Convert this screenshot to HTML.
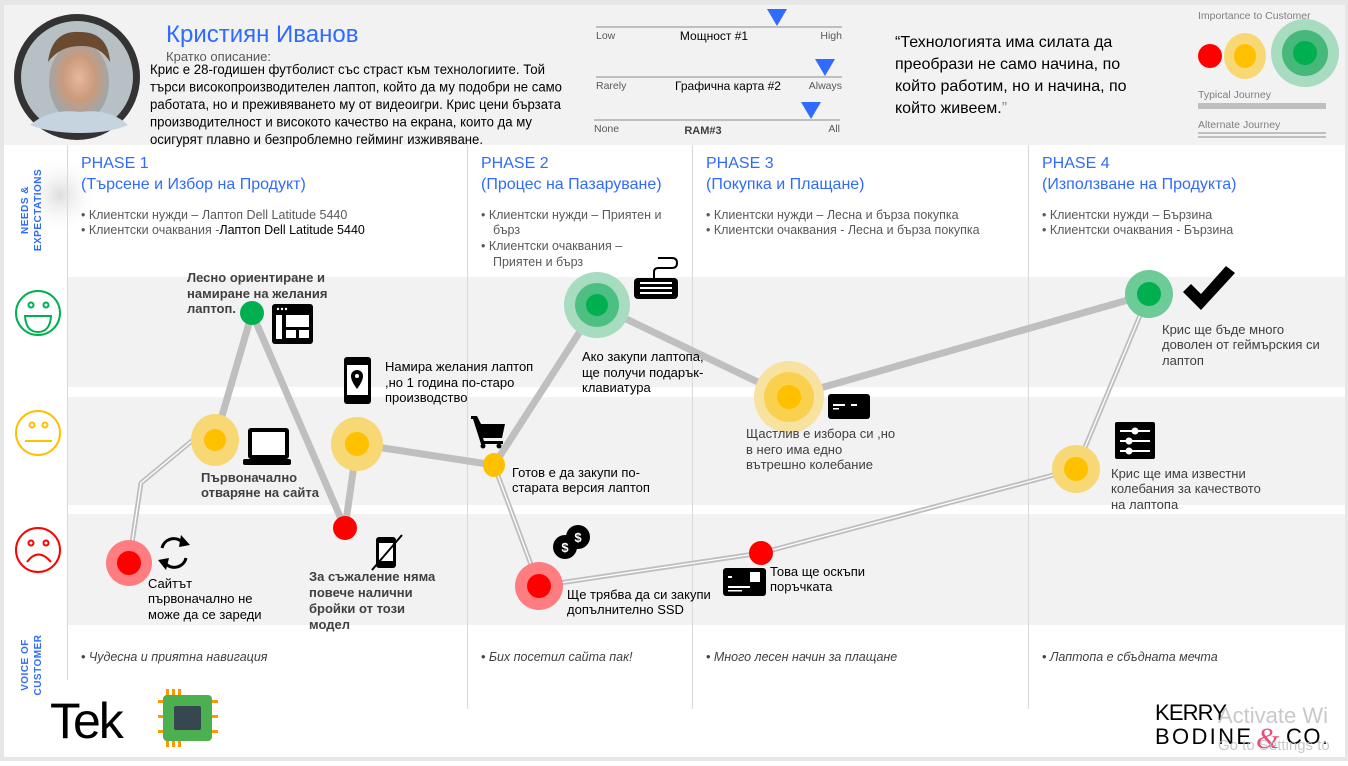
<!DOCTYPE html>
<html><head><meta charset="utf-8">
<style>
html,body{margin:0;padding:0;background:#fff;}
body{width:1348px;height:761px;overflow:hidden;position:relative;}
svg text{font-family:"Liberation Sans Narrow","Liberation Sans",sans-serif;}
</style></head>
<body>
<svg width="1348" height="761" viewBox="0 0 1348 761" xmlns="http://www.w3.org/2000/svg">
<defs>
<radialGradient id="photo" cx="50%" cy="45%" r="55%">
<stop offset="0" stop-color="#e9b89a"/><stop offset="0.5" stop-color="#c99a7c"/><stop offset="1" stop-color="#9aa8b0"/>
</radialGradient>
<radialGradient id="sh" cx="50%" cy="50%" r="50%"><stop offset="0" stop-color="#ddd"/><stop offset="1" stop-color="#fff" stop-opacity="0"/></radialGradient>
</defs>
<rect x="0" y="0" width="1348" height="761" fill="#fff"/>
<rect x="0" y="0" width="1348" height="5" fill="#e6e6e6"/>
<rect x="4" y="5" width="1341" height="140" fill="#f2f2f2"/>
<rect x="0" y="0" width="4" height="761" fill="#e6e6e6"/>
<rect x="1345" y="0" width="3" height="761" fill="#e6e6e6"/>
<rect x="0" y="757" width="1348" height="4" fill="#e6e6e6"/>

<!-- photo -->
<circle cx="77" cy="77" r="63" fill="#333"/>
<circle cx="77" cy="77" r="56" fill="#b7c0c4"/>
<ellipse cx="79" cy="82" rx="30" ry="40" fill="url(#photo)"/>
<path d="M48 62 Q52 30 80 32 Q108 32 110 62 Q100 45 80 46 Q60 46 48 62Z" fill="#6b4a32"/>
<path d="M30 125 Q50 108 80 112 Q110 108 128 125 Q110 133 80 133 Q50 133 30 125Z" fill="#c6d4e0"/>

<text x="166" y="42" font-size="24" fill="#2f6bff" style="font-family:'Liberation Sans',sans-serif">Кристиян Иванов</text>
<text x="166" y="61" font-size="13" fill="#595959" textLength="105" lengthAdjust="spacingAndGlyphs">Кратко описание:</text>
<g font-size="13.5" fill="#000">
<text x="150" y="74" textLength="395" lengthAdjust="spacingAndGlyphs">Крис е 28-годишен футболист със страст към технологиите. Той</text>
<text x="150" y="91.5" textLength="412" lengthAdjust="spacingAndGlyphs">търси високопроизводителен лаптоп, който да му подобри не само</text>
<text x="150" y="109" textLength="411" lengthAdjust="spacingAndGlyphs">работата, но и преживяването му от видеоигри. Крис цени бързата</text>
<text x="150" y="126.5" textLength="382" lengthAdjust="spacingAndGlyphs">производителност и високото качество на екрана, които да му</text>
<text x="150" y="144" textLength="333" lengthAdjust="spacingAndGlyphs">осигурят плавно и безпроблемно гейминг изживяване.</text>
</g>

<!-- sliders -->
<g fill="#595959" font-size="10.5">
<rect x="596" y="26" width="246" height="2" fill="#bfbfbf"/>
<polygon points="767,9 787,9 777,26" fill="#2f6bff"/>
<text x="596" y="39">Low</text><text x="842" y="39" text-anchor="end">High</text>
<text x="714" y="40" text-anchor="middle" fill="#000" font-size="12">Мощност #1</text>
<rect x="596" y="76" width="246" height="2" fill="#bfbfbf"/>
<polygon points="815,59 835,59 825,76" fill="#2f6bff"/>
<text x="596" y="89">Rarely</text><text x="842" y="89" text-anchor="end">Always</text>
<text x="728" y="90" text-anchor="middle" fill="#000" font-size="12">Графична карта #2</text>
<rect x="594" y="119" width="246" height="2" fill="#bfbfbf"/>
<polygon points="801,102 821,102 811,119" fill="#2f6bff"/>
<text x="594" y="132">None</text><text x="840" y="132" text-anchor="end">All</text>
<text x="703" y="134" text-anchor="middle" fill="#404040" font-size="11" font-weight="bold">RAM#3</text>
</g>

<!-- quote -->
<g font-size="16" fill="#000">
<text x="895" y="47">“Технологията има силата да</text>
<text x="895" y="69">преобрази не само начина, по</text>
<text x="895" y="91">който работим, но и начина, по</text>
<text x="895" y="113">който живеем.<tspan fill="#888">”</tspan></text>
</g>

<!-- legend -->
<g font-size="10.5" fill="#7f7f7f">
<text x="1198" y="19">Importance to Customer</text>
<text x="1198" y="98">Typical Journey</text>
<text x="1198" y="128">Alternate Journey</text>
</g>
<ellipse cx="1210" cy="56" rx="12" ry="12" fill="#ff0000"/>
<ellipse cx="1245" cy="56" rx="21" ry="23" fill="#f8d775"/>
<ellipse cx="1245" cy="56" rx="11" ry="12" fill="#ffc000"/>
<circle cx="1305" cy="53" r="34" fill="#a8dcc0"/>
<circle cx="1305" cy="53" r="23" fill="#45b87a"/>
<circle cx="1305" cy="53" r="12" fill="#00b050"/>
<rect x="1198" y="103" width="128" height="6" fill="#bfbfbf"/>
<rect x="1198" y="132" width="128" height="2" fill="#bfbfbf"/>
<rect x="1198" y="136" width="128" height="2" fill="#bfbfbf"/>

<!-- bands -->
<rect x="67" y="277" width="1278" height="110" fill="#f2f2f2"/>
<rect x="67" y="397" width="1278" height="108" fill="#f2f2f2"/>
<rect x="67" y="514" width="1278" height="111" fill="#f2f2f2"/>
<ellipse cx="60" cy="195" rx="40" ry="40" fill="url(#sh)"/>

<g stroke="#d9d9d9" stroke-width="1">
<line x1="67.5" y1="145" x2="67.5" y2="680"/>
<line x1="467.5" y1="145" x2="467.5" y2="709"/>
<line x1="692.5" y1="145" x2="692.5" y2="709"/>
<line x1="1028.5" y1="145" x2="1028.5" y2="709"/>
</g>

<g font-size="10" font-weight="bold" fill="#2f6bff" style="font-family:'Liberation Sans',sans-serif" letter-spacing="0.5">
<text transform="translate(28,210) rotate(-90)" text-anchor="middle">NEEDS &amp;</text>
<text transform="translate(41,210) rotate(-90)" text-anchor="middle">EXPECTATIONS</text>
<text transform="translate(28,665) rotate(-90)" text-anchor="middle">VOICE OF</text>
<text transform="translate(41,665) rotate(-90)" text-anchor="middle">CUSTOMER</text>
</g>

<g font-size="16" fill="#2f6bff">
<text x="81" y="168">PHASE 1</text><text x="81" y="189">(Търсене и Избор на Продукт)</text>
<text x="481" y="168">PHASE 2</text><text x="481" y="189">(Процес на Пазаруване)</text>
<text x="706" y="168">PHASE 3</text><text x="706" y="189">(Покупка и Плащане)</text>
<text x="1042" y="168">PHASE 4</text><text x="1042" y="189">(Използване на Продукта)</text>
</g>
<g font-size="12.5" fill="#595959">
<text x="81" y="219">•  Клиентски нужди – Лаптоп Dell Latitude 5440</text>
<text x="81" y="234">•  Клиентски очаквания -<tspan fill="#000">Лаптоп Dell Latitude 5440</tspan></text>
<text x="481" y="219">•  Клиентски нужди – Приятен и</text>
<text x="493" y="234">бърз</text>
<text x="481" y="250">•  Клиентски очаквания –</text>
<text x="493" y="266">Приятен и бърз</text>
<text x="706" y="219">•  Клиентски нужди – Лесна и бърза покупка</text>
<text x="706" y="234">•  Клиентски очаквания - Лесна и бърза покупка</text>
<text x="1042" y="219">•  Клиентски нужди – Бързина</text>
<text x="1042" y="234">•  Клиентски очаквания - Бързина</text>
</g>

<g fill="none" stroke-width="2">
<g stroke="#00b050"><circle cx="38" cy="313" r="22"/><circle cx="31" cy="305" r="2.5"/><circle cx="46" cy="305" r="2.5"/><path d="M25 316 L51 316 Q50 332 38 332 Q26 332 25 316Z"/></g>
<g stroke="#ffc000"><circle cx="38" cy="433" r="22"/><circle cx="32" cy="425" r="2.5"/><circle cx="45" cy="425" r="2.5"/><line x1="25" y1="441" x2="52" y2="441"/></g>
<g stroke="#ff0000"><circle cx="38" cy="550" r="22"/><circle cx="31" cy="543" r="2.5"/><circle cx="46" cy="543" r="2.5"/><path d="M27 562 Q38 547 51 562"/></g>
</g>

<g fill="none" stroke-linejoin="round">
<path d="M129 563 L141 483 L205 430" stroke="#bfbfbf" stroke-width="5"/>
<path d="M129 563 L141 483 L205 430" stroke="#fff" stroke-width="1.3"/>
<path d="M494 465 L539 586 L761 553 L1076 469 L1149 294" stroke="#bfbfbf" stroke-width="5"/>
<path d="M494 465 L539 586 L761 553 L1076 469 L1149 294" stroke="#fff" stroke-width="1.3"/>
</g>
<path d="M215 440 L252 313 L345 528 L357 444 L494 465 L597 305 L789 397 L1149 294" fill="none" stroke="#bfbfbf" stroke-width="7" stroke-linejoin="round"/>

<circle cx="129" cy="563" r="23" fill="#ff7c80"/><circle cx="129" cy="563" r="12" fill="#ff0000"/>
<ellipse cx="215" cy="440" rx="24" ry="26" fill="#f8d775"/><circle cx="215" cy="440" r="11" fill="#ffc000"/>
<ellipse cx="252" cy="313" rx="12" ry="12" fill="#00b050"/>
<ellipse cx="345" cy="528" rx="12" ry="12" fill="#ff0000"/>
<ellipse cx="357" cy="444" rx="26" ry="27" fill="#f8d775"/><circle cx="357" cy="444" r="12" fill="#ffc000"/>
<ellipse cx="494" cy="465" rx="11" ry="12" fill="#ffc000"/>
<circle cx="597" cy="305" r="33" fill="#a8dcc0"/><circle cx="597" cy="305" r="22" fill="#4dbf82"/><circle cx="597" cy="305" r="11" fill="#00b050"/>
<ellipse cx="789" cy="397" rx="35" ry="36" fill="#f8e2a0"/><circle cx="789" cy="397" r="25" fill="#fad14f"/><circle cx="789" cy="397" r="12" fill="#ffc000"/>
<circle cx="539" cy="586" r="24" fill="#ff7c80"/><circle cx="539" cy="586" r="12" fill="#ff0000"/>
<ellipse cx="761" cy="553" rx="12" ry="12" fill="#ff0000"/>
<ellipse cx="1076" cy="469" rx="24" ry="24" fill="#f8d775"/><circle cx="1076" cy="469" r="12" fill="#ffc000"/>
<ellipse cx="1149" cy="294" rx="24" ry="24" fill="#6ccb96"/><circle cx="1149" cy="294" r="12" fill="#00b050"/>

<g fill="#000">
<rect x="272" y="304" width="41" height="40" rx="3"/>
<g fill="#fff"><circle cx="278" cy="309" r="1.2"/><circle cx="282" cy="309" r="1.2"/><circle cx="286" cy="309" r="1.2"/>
<rect x="276" y="315" width="6" height="24"/><rect x="286" y="315" width="23" height="12"/><rect x="286" y="330" width="10" height="8"/><rect x="299" y="330" width="10" height="8"/></g>
<rect x="248" y="428" width="41" height="31" rx="3"/><rect x="252" y="432" width="33" height="23" fill="#fff"/><rect x="243" y="459" width="48" height="6" rx="2"/>
<rect x="344" y="357" width="27" height="47" rx="3"/><rect x="347" y="365" width="21" height="30" fill="#fff"/>
<path d="M357 370 a6 6 0 0 1 6 6 q0 5 -6 13 q-6 -8 -6 -13 a6 6 0 0 1 6 -6z"/><circle cx="357" cy="376" r="2" fill="#fff"/>
<path d="M471 416 h6 l4 8 h24 l-3 14 h-19 l1 3 h19 v3 h-22 l-8 -25 h-2z"/><circle cx="483" cy="446" r="2.5"/><circle cx="499" cy="446" r="2.5"/>
<path d="M654 278 v-6 q0 -4 4 -4 h14 q5 0 5 -5 q0 -5 -5 -5 h-14" fill="none" stroke="#000" stroke-width="2"/>
<rect x="634" y="278" width="44" height="21" rx="4"/>
<g fill="#fff"><rect x="640" y="282" width="32" height="2"/><rect x="640" y="287" width="32" height="2"/><rect x="640" y="292" width="32" height="2"/></g>
<rect x="828" y="394" width="42" height="25" rx="3"/><rect x="833" y="404" width="12" height="2" fill="#fff"/><rect x="851" y="404" width="6" height="2" fill="#fff"/><rect x="833" y="408" width="6" height="1.5" fill="#fff"/>
<path d="M1183 292 l8 -8 l10 10 l25 -28 l9 7 l-34 37z"/>
<rect x="1115" y="422" width="40" height="37" rx="2"/>
<g stroke="#fff" stroke-width="2"><line x1="1120" y1="431" x2="1150" y2="431"/><line x1="1120" y1="441" x2="1150" y2="441"/><line x1="1120" y1="451" x2="1150" y2="451"/></g>
<g fill="#fff"><circle cx="1135" cy="431" r="3.5"/><circle cx="1129" cy="441" r="3.5"/><circle cx="1129" cy="451" r="3.5"/></g>
<g fill="none" stroke="#000" stroke-width="3"><path d="M162 548 a12 12 0 0 1 20 -6"/><path d="M186 558 a12 12 0 0 1 -20 6"/></g>
<polygon points="181,535 190,545 179,547"/><polygon points="166,570 158,560 169,558"/>
<rect x="376" y="537" width="20" height="31" rx="3"/><rect x="379" y="543" width="14" height="18" fill="#fff"/>
<line x1="372" y1="570" x2="402" y2="535" stroke="#000" stroke-width="2"/>
<circle cx="565" cy="547" r="12"/><circle cx="578" cy="537" r="12"/>
<text x="565" y="552" font-size="13" fill="#fff" text-anchor="middle" font-weight="bold">$</text>
<text x="578" y="542" font-size="13" fill="#fff" text-anchor="middle" font-weight="bold">$</text>
<rect x="723" y="568" width="43" height="28" rx="3"/><rect x="750" y="572" width="10" height="10" fill="#fff"/><rect x="728" y="576" width="4" height="2" fill="#fff"/><rect x="728" y="586" width="22" height="2" fill="#fff"/><rect x="728" y="590" width="14" height="1.5" fill="#fff"/>
</g>

<g font-size="13">
<g fill="#404040" font-weight="bold">
<text x="187" y="282">Лесно ориентиране и</text><text x="187" y="298">намиране на желания</text><text x="187" y="313">лаптоп.</text>
<text x="201" y="482">Първоначално</text><text x="201" y="497">отваряне на сайта</text>
<text x="309" y="581">За съжаление няма</text><text x="309" y="597">повече налични</text><text x="309" y="613">бройки от този</text><text x="309" y="629">модел</text>
</g>
<g fill="#000">
<text x="385" y="371">Намира желания лаптоп</text><text x="385" y="387">,но 1 година по-старо</text><text x="385" y="402">производство</text>
<text x="148" y="588">Сайтът</text><text x="148" y="603">първоначално не</text><text x="148" y="619">може да се зареди</text>
<text x="512" y="477">Готов е да закупи по-</text><text x="512" y="492">старата версия лаптоп</text>
<text x="582" y="361">Ако закупи лаптопа,</text><text x="582" y="377">ще получи подарък-</text><text x="582" y="392">клавиатура</text>
<text x="567" y="599">Ще трябва да си закупи</text><text x="567" y="614">допълнително SSD</text>
<text x="770" y="576">Това ще оскъпи</text><text x="770" y="591">поръчката</text>
</g>
<g fill="#404040">
<text x="746" y="438">Щастлив е избора си ,но</text><text x="746" y="454">в него има едно</text><text x="746" y="469">вътрешно колебание</text>
<text x="1162" y="334">Крис ще бъде много</text><text x="1162" y="349">доволен от геймърския си</text><text x="1162" y="365">лаптоп</text>
<text x="1111" y="478">Крис ще има известни</text><text x="1111" y="493">колебания за качеството</text><text x="1111" y="509">на лаптопа</text>
</g>
</g>

<g font-size="12.5" fill="#404040" font-style="italic">
<text x="81" y="661">•  Чудесна и приятна навигация</text>
<text x="481" y="661">•  Бих посетил сайта пак!</text>
<text x="706" y="661">•  Много лесен начин за плащане</text>
<text x="1042" y="661">•  Лаптопа е сбъдната мечта</text>
</g>

<text x="50" y="738" font-size="50" fill="#000" style="font-family:'Liberation Sans',sans-serif" letter-spacing="-2">Tek</text>
<g fill="#ff9800">
<rect x="166" y="689" width="3" height="8"/><rect x="172" y="689" width="3" height="8"/><rect x="178" y="689" width="3" height="8"/>
<rect x="166" y="739" width="3" height="8"/><rect x="172" y="739" width="3" height="8"/><rect x="178" y="739" width="3" height="8"/>
<rect x="158" y="700" width="8" height="3"/><rect x="158" y="715" width="8" height="3"/><rect x="158" y="730" width="8" height="3"/>
<rect x="210" y="700" width="8" height="3"/><rect x="210" y="715" width="8" height="3"/><rect x="210" y="730" width="8" height="3"/>
</g>
<rect x="163" y="695" width="49" height="46" rx="4" fill="#4caf50"/>
<rect x="174" y="706" width="27" height="24" rx="2" fill="#37474f"/>

<g font-size="22" fill="#000" style="font-family:'DejaVu Sans','Liberation Sans',sans-serif" font-weight="300">
<text x="1155" y="720" textLength="72">KERRY</text>
<text x="1155" y="744" textLength="96">BODINE</text>
<text x="1286" y="744" textLength="42">CO.</text>
</g>
<text x="1256" y="748" font-size="30" fill="#e94e77" font-style="italic" style="font-family:'Liberation Serif',serif">&amp;</text>
<g font-size="22" fill="#bbb" opacity="0.8" style="font-family:'Liberation Sans',sans-serif">
<text x="1218" y="723">Activate Wi</text>
<text x="1218" y="750" font-size="15">Go to Settings to</text>
</g>
</svg>
</body></html>
